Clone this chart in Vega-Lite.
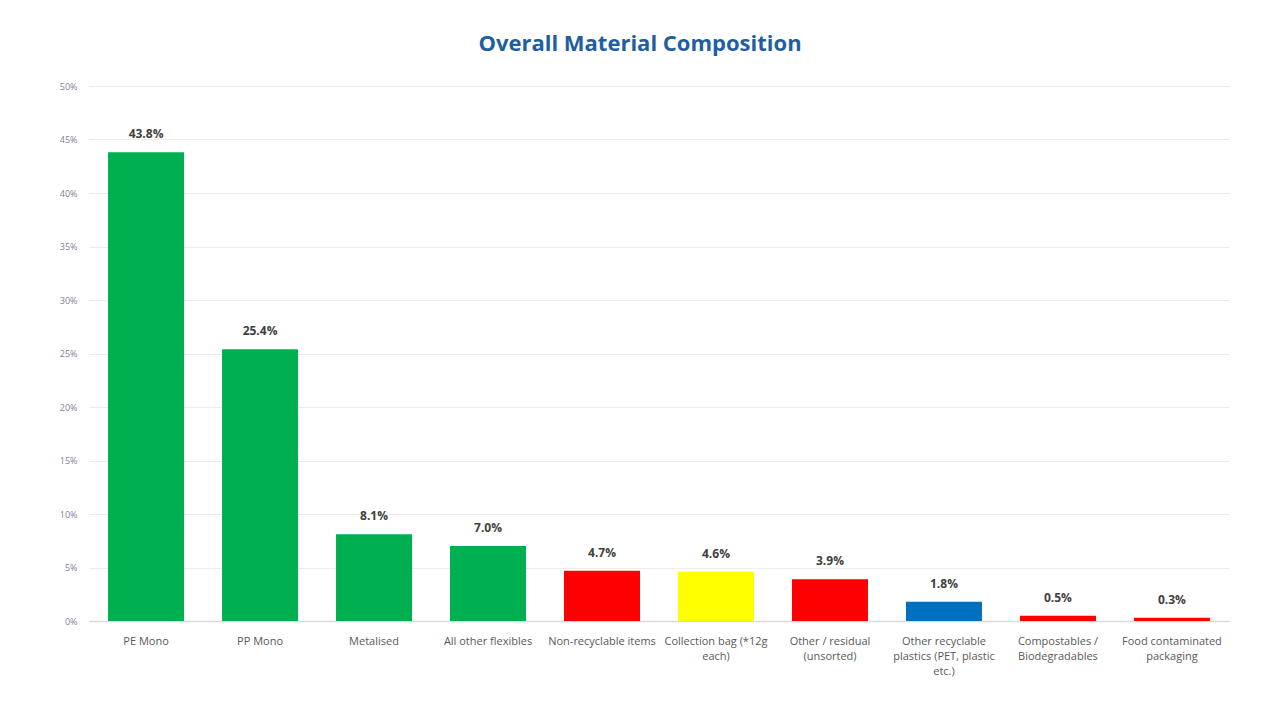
{
  "$schema": "https://vega.github.io/schema/vega-lite/v6.json",
  "width": 1140,
  "height": 535,
  "autosize": "none",
  "padding": {"left": 89, "top": 86, "right": 36, "bottom": 85},
  "background": "white",
  "title": {
    "text": "Overall Material Composition",
    "anchor": "middle",
    "dx": -19,
    "offset": 26,
    "font": "Open Sans",
    "fontSize": 22,
    "fontWeight": "bold",
    "color": "#1F5FA0"
  },
  "config": {
    "view": {"stroke": null},
    "font": "Open Sans"
  },
  "data": {
    "values": [
      {"category": "PE Mono", "share": 0.438, "group": "recyclable flexible"},
      {"category": "PP Mono", "share": 0.254, "group": "recyclable flexible"},
      {"category": "Metalised", "share": 0.081, "group": "recyclable flexible"},
      {"category": "All other flexibles", "share": 0.070, "group": "recyclable flexible"},
      {"category": "Non-recyclable items", "share": 0.047, "group": "non-recyclable"},
      {"category": "Collection bag (*12g each)", "share": 0.046, "group": "bag"},
      {"category": "Other / residual (unsorted)", "share": 0.039, "group": "non-recyclable"},
      {"category": "Other recyclable plastics (PET, plastic etc.)", "share": 0.018, "group": "other recyclable"},
      {"category": "Compostables / Biodegradables", "share": 0.005, "group": "non-recyclable"},
      {"category": "Food contaminated packaging", "share": 0.003, "group": "non-recyclable"}
    ]
  },
  "encoding": {
    "x": {
      "field": "category",
      "type": "nominal",
      "sort": null,
      "scale": {"paddingInner": 0.333, "paddingOuter": 0.167},
      "axis": {
        "title": null,
        "labelAngle": 0,
        "labelFontSize": 11,
        "labelColor": "#595959",
        "labelPadding": 14,
        "labelLineHeight": 15,
        "labelBaseline": "top",
        "labelLimit": 200,
        "ticks": false,
        "domainColor": "#D9D9D9",
        "domainWidth": 1.5,
        "labelExpr": "datum.value == 'Collection bag (*12g each)' ? ['Collection bag (*12g', 'each)'] : datum.value == 'Other / residual (unsorted)' ? ['Other / residual', '(unsorted)'] : datum.value == 'Other recyclable plastics (PET, plastic etc.)' ? ['Other recyclable', 'plastics (PET, plastic', 'etc.)'] : datum.value == 'Compostables / Biodegradables' ? ['Compostables /', 'Biodegradables'] : datum.value == 'Food contaminated packaging' ? ['Food contaminated', 'packaging'] : datum.value"
      }
    },
    "y": {
      "field": "share",
      "type": "quantitative",
      "scale": {"domain": [0, 0.5]},
      "axis": {
        "title": null,
        "format": ".0%",
        "values": [0, 0.05, 0.1, 0.15, 0.2, 0.25, 0.3, 0.35, 0.4, 0.45, 0.5],
        "labelFontSize": 9,
        "labelColor": "#7F7F9F",
        "labelPadding": 12,
        "ticks": false,
        "domain": false,
        "gridColor": "#EBEBEB",
        "gridWidth": 1
      }
    }
  },
  "layer": [
    {
      "mark": {"type": "bar"},
      "encoding": {
        "color": {
          "field": "group",
          "type": "nominal",
          "scale": {
            "domain": ["recyclable flexible", "non-recyclable", "bag", "other recyclable"],
            "range": ["#00B050", "#FF0000", "#FFFF00", "#0070C0"]
          },
          "legend": null
        }
      }
    },
    {
      "mark": {"type": "text", "dy": -18, "fontSize": 12, "fontWeight": "bold", "color": "#404040"},
      "encoding": {
        "text": {"field": "share", "type": "quantitative", "format": ".1%"}
      }
    }
  ]
}
